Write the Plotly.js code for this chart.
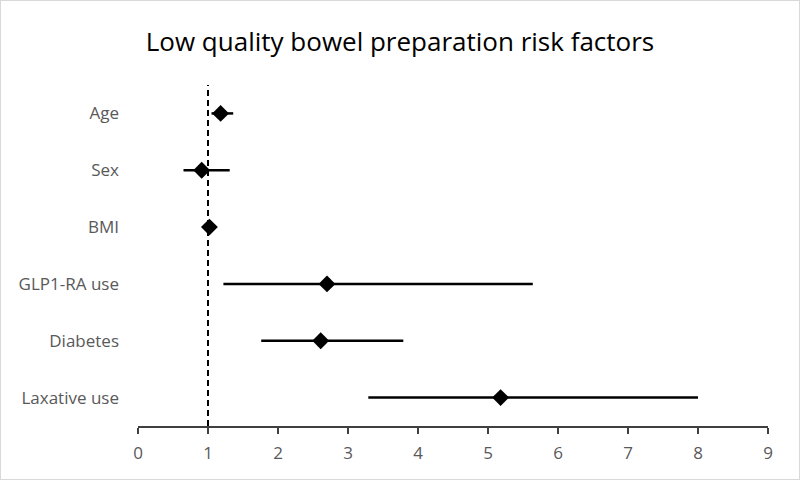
<!DOCTYPE html>
<html>
<head>
<meta charset="utf-8">
<script src="https://cdn.plot.ly/plotly-3.0.1.min.js"></script>
<style>
  html, body { margin: 0; padding: 0; background: #fff; }
  #chart { width: 800px; height: 480px; box-sizing: border-box; border: 1px solid #d9d9d9; }
</style>
</head>
<body>
<div id="chart"></div>
<script>
// Odds ratios with 95% confidence intervals
const factors = ["Age", "Sex", "BMI", "GLP1-RA use", "Diabetes", "Laxative use"];
const oddsRatio = [1.18, 0.91, 1.02, 2.70, 2.61, 5.18];
const ciLow = [1.05, 0.65, 1.01, 1.22, 1.76, 3.29];
const ciHigh = [1.36, 1.31, 1.03, 5.64, 3.79, 8.00];
const xTicks = [0, 1, 2, 3, 4, 5, 6, 7, 8, 9];

const rows = factors.map((_, i) => i);

const trace = {
  type: "scatter",
  mode: "markers",
  x: oddsRatio,
  y: rows,
  marker: { symbol: "diamond", size: 13, color: "#000" },
  error_x: {
    type: "data",
    symmetric: false,
    array: oddsRatio.map((v, i) => ciHigh[i] - v),
    arrayminus: oddsRatio.map((v, i) => v - ciLow[i]),
    color: "#000",
    thickness: 2.5,
    width: 0
  },
  hoverinfo: "x+y"
};

const layout = {
  width: 798,
  height: 478,
  margin: { l: 136.5, r: 31, t: 83.5, b: 52.5 },
  paper_bgcolor: "#fff",
  plot_bgcolor: "#fff",
  showlegend: false,
  font: { family: "Open Sans, sans-serif", color: "#595959" },
  title: {
    text: "Low quality bowel preparation risk factors",
    font: { size: 26, color: "#000" },
    x: 0.5,
    xanchor: "center",
    y: 0.915,
    yanchor: "middle"
  },
  xaxis: {
    range: [0, 9],
    tickvals: xTicks,
    ticktext: xTicks.map(String),
    showgrid: false,
    zeroline: false,
    showline: true,
    linecolor: "#404040",
    linewidth: 1.5,
    ticks: "outside",
    ticklen: 6,
    tickwidth: 1.5,
    tickcolor: "#404040",
    ticklabelstandoff: 5,
    tickfont: { size: 17, color: "#595959" },
    fixedrange: true
  },
  yaxis: {
    range: [5.5, -0.5],
    tickvals: rows,
    ticktext: factors,
    showgrid: false,
    zeroline: false,
    showline: false,
    ticks: "",
    ticklabelstandoff: 18,
    tickfont: { size: 17, color: "#595959" },
    fixedrange: true
  },
  shapes: [{
    type: "line",
    xref: "x",
    yref: "paper",
    x0: 1, x1: 1,
    y0: 0, y1: 1,
    line: { color: "#000", width: 2, dash: "6px,4px" },
    layer: "below"
  }]
};

Plotly.newPlot("chart", [trace], layout, { displayModeBar: false, staticPlot: true });
</script>
</body>
</html>
